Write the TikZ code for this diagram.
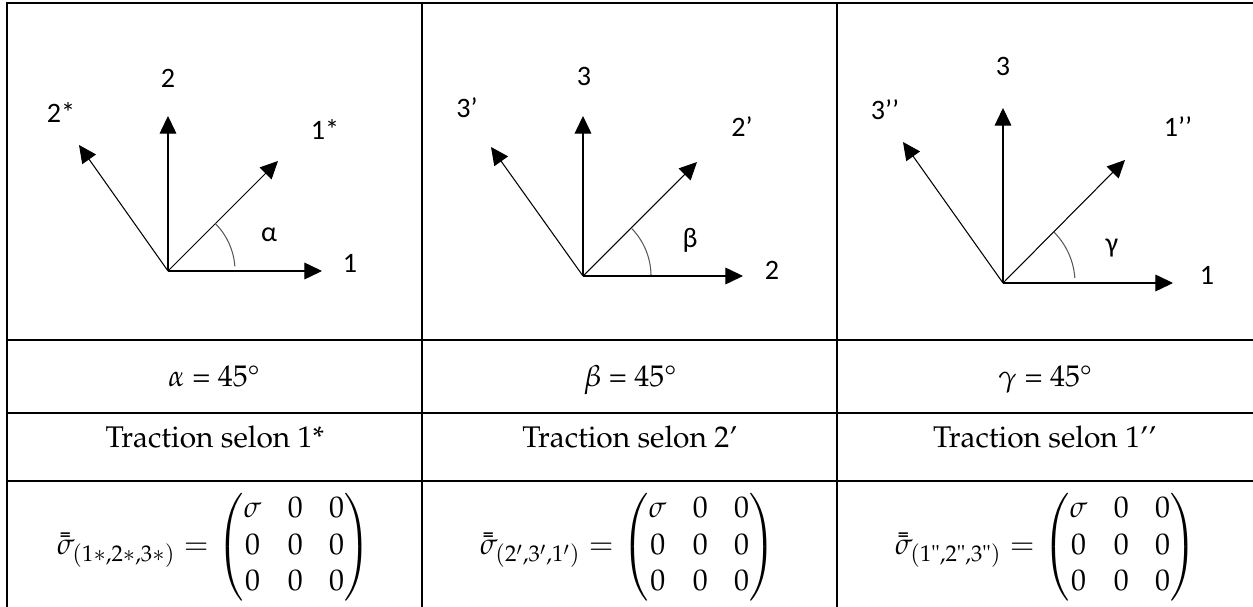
\documentclass[tikz,border=0pt]{standalone}
\usepackage{amsmath}
\usepackage{mathpazo}
\usepackage[T1]{fontenc}
\usepackage[no-math]{fontspec}
\newfontfamily\labelfont{Carlito}
\newcommand{\palfont}{\fontencoding{T1}\fontfamily{ppl}\selectfont}
\newcommand{\dq}{\text{"}}
\setlength{\arraycolsep}{7.5pt}
\renewcommand{\arraystretch}{1.18}
\usetikzlibrary{arrows.meta,calc}

\begin{document}
\begin{tikzpicture}[
    x=0.02cm,y=0.02cm,
    grid/.style={line width=1.1pt},
    axis/.style={-{Triangle[length=10pt,width=9.5pt]}, line width=0.6pt},
    angarc/.style={gray!70!black, line width=0.6pt},
    lbl/.style={font=\labelfont\fontsize{16}{19}\selectfont, inner sep=0pt},
    cell/.style={font=\palfont\fontsize{17}{20}\selectfont, inner sep=0pt},
    tensor/.style={font=\palfont\fontsize{17}{17.6}\selectfont, inner sep=0pt}
]
\useasboundingbox (0,0) rectangle (1253,-607);

% table lines
\draw[grid] (7,-607) -- (7,-3) -- (1253,-3);
\draw[grid] (422,-3) -- (422,-607);
\draw[grid] (837,-3) -- (837,-607);
\foreach \y in {340,413,481}
  \draw[grid] (7,-\y) -- (1253,-\y);

% first frame
\coordinate (oA) at (168,-271);
\coordinate (xA) at (322,-271);
\coordinate (yA) at (168,-116);
\coordinate (uA) at (278,-161);
\coordinate (vA) at (79,-145);
\draw[axis] (oA) -- (xA);
\draw[axis] (oA) -- (yA);
\draw[axis] (oA) -- (uA);
\draw[axis] (oA) -- (vA);
\draw[angarc] ($(oA)+(45:67)$) arc[start angle=45, end angle=4, radius=67];
\node[lbl] (lyA) at (168,-78) {2};
\node[lbl] (lvA) at (61,-113) {2*};
\node[lbl] (luA) at (325,-130) {1*};
\node[lbl] (laA) at (269,-235) {α};
\node[lbl] (lxA) at (350,-263) {1};

% second frame
\coordinate (oB) at (583,-276);
\coordinate (xB) at (743,-276);
\coordinate (yB) at (583,-116);
\coordinate (uB) at (697,-162);
\coordinate (vB) at (491,-147);
\draw[axis] (oB) -- (xB);
\draw[axis] (oB) -- (yB);
\draw[axis] (oB) -- (uB);
\draw[axis] (oB) -- (vB);
\draw[angarc] ($(oB)+(44:68)$) arc[start angle=44, end angle=1, radius=68];
\node[lbl] (lyB) at (584,-76) {3};
\node[lbl] (lvB) at (467,-108) {3’};
\node[lbl] (luB) at (742,-127) {2’};
\node[lbl] (laB) at (690,-240) {β};
\node[lbl] (lxB) at (772,-270) {2};

% third frame
\coordinate (oC) at (1003,-283);
\coordinate (xC) at (1173,-283);
\coordinate (yC) at (1003,-108);
\coordinate (uC) at (1125,-160);
\coordinate (vC) at (903,-142);
\draw[axis] (oC) -- (xC);
\draw[axis] (oC) -- (yC);
\draw[axis] (oC) -- (uC);
\draw[axis] (oC) -- (vC);
\draw[angarc] ($(oC)+(45:72)$) arc[start angle=45, end angle=4, radius=72];
\node[lbl] (lyC) at (1003,-66) {3};
\node[lbl] (lvC) at (885,-110) {3’’};
\node[lbl] (luC) at (1178,-127) {1’’};
\node[lbl] (laC) at (1112,-248) {γ};
\node[lbl] (lxC) at (1207,-275) {1};

% angle row
\node[cell, anchor=base] (angA) at (214,-387) {$\alpha$ = 45\textdegree};
\node[cell, anchor=base] (angB) at (630,-387) {$\beta$ = 45\textdegree};
\node[cell, anchor=base] (angC) at (1045,-387) {$\gamma$ = 45\textdegree};

% loading row
\node[cell, anchor=base] (tracA) at (215,-447) {Traction selon 1*};
\node[cell, anchor=base] (tracB) at (630,-447) {Traction selon 2'};
\node[cell, anchor=base] (tracC) at (1045,-447) {Traction selon 1'{}'};

% stress tensors
\node[tensor] (tensA) at (214,-547)
  {$\bar{\bar{\sigma}}_{(1*,2*,3*)} = \begin{pmatrix}\sigma & 0 & 0\\ 0 & 0 & 0\\ 0 & 0 & 0\end{pmatrix}$};
\node[tensor] (tensB) at (628,-547)
  {$\bar{\bar{\sigma}}_{(2',3',1')} = \begin{pmatrix}\sigma & 0 & 0\\ 0 & 0 & 0\\ 0 & 0 & 0\end{pmatrix}$};
\node[tensor] (tensC) at (1046,-547)
  {$\bar{\bar{\sigma}}_{(1\dq,2\dq,3\dq)} = \begin{pmatrix}\sigma & 0 & 0\\ 0 & 0 & 0\\ 0 & 0 & 0\end{pmatrix}$};
\end{tikzpicture}
\end{document}
